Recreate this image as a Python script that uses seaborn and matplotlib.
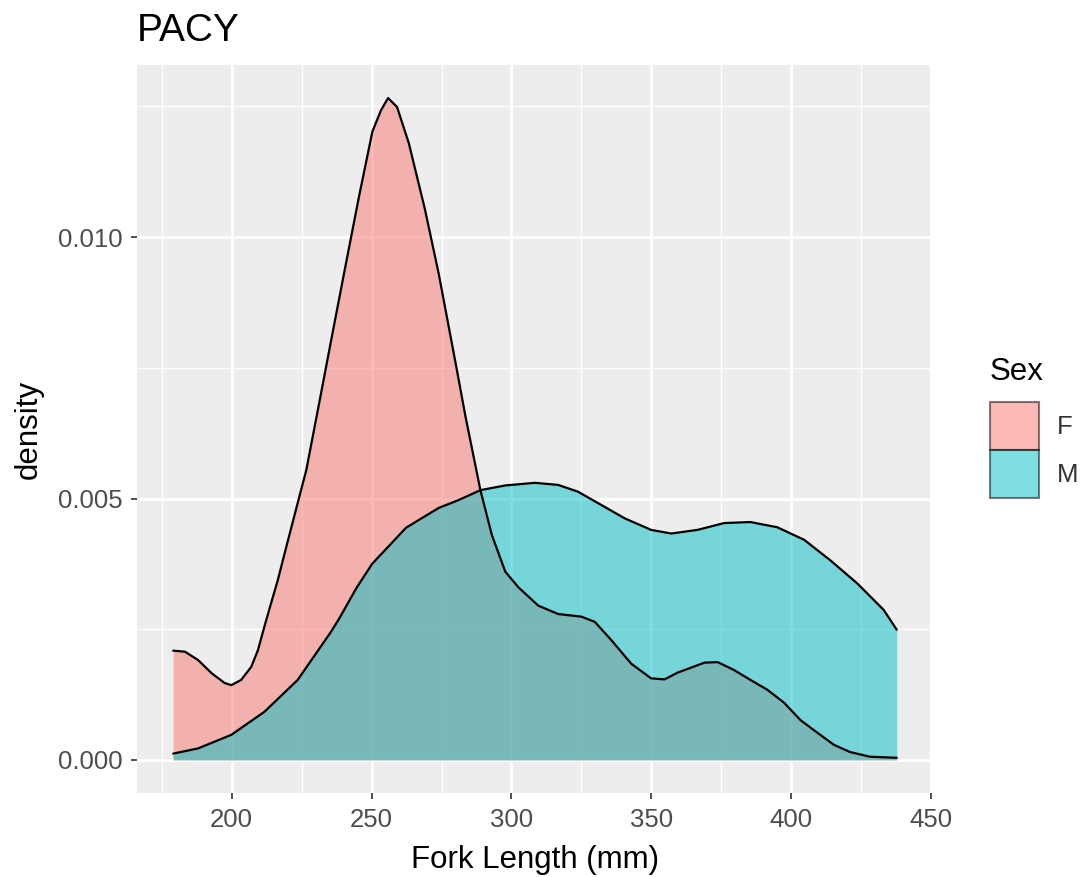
import matplotlib
matplotlib.use("Agg")
import matplotlib.pyplot as plt
from matplotlib.patches import Patch
from matplotlib.ticker import MultipleLocator
import pandas as pd
import seaborn as sns

# Kernel density of fork length (mm) by sex
female_length = [179.1, 183.3, 188.0, 192.8, 197.5, 199.9, 203.4, 207.0, 209.4,
                 211.7, 214.1, 216.5, 218.3, 222.8, 226.7, 231.9, 236.0, 240.5,
                 245.6, 250.3, 253.4, 255.9, 259.1, 263.3, 269.0, 274.0, 280.0,
                 283.6, 288.9, 293.0, 297.8, 302.5, 309.6, 316.7, 325.0, 329.8,
                 335.7, 342.8, 349.9, 354.7, 359.4, 369.0, 373.7, 379.5, 385.4,
                 391.5, 397.5, 403.3, 409.3, 415.2, 421.0, 428.2, 437.7]
female_density = [0.00209, 0.00207, 0.00191, 0.00166, 0.00147, 0.00143, 0.00153,
                  0.00178, 0.00210, 0.00255, 0.00300, 0.00344, 0.00382, 0.00475,
                  0.00555, 0.00700, 0.00815, 0.00940, 0.01080, 0.01202, 0.01243,
                  0.01266, 0.01249, 0.01180, 0.01055, 0.00930, 0.00760, 0.00656,
                  0.00516, 0.00430, 0.00360, 0.00330, 0.00295, 0.00279, 0.00274,
                  0.00264, 0.00229, 0.00184, 0.00156, 0.00154, 0.00167, 0.00186,
                  0.00187, 0.00172, 0.00153, 0.00134, 0.00109, 0.00076, 0.00052,
                  0.00029, 0.00015, 0.00006, 0.00004]

male_length = [179.1, 188.0, 199.9, 211.7, 223.6, 235.5, 238.4, 244.5, 250.2,
               262.3, 274.0, 281.1, 288.9, 297.8, 308.4, 316.7, 323.8, 331.0,
               340.5, 349.9, 357.1, 366.5, 376.0, 385.4, 395.0, 404.6, 413.9,
               423.5, 433.0, 437.7]
male_density = [0.00012, 0.00022, 0.00048, 0.00092, 0.00153, 0.00245, 0.00270,
                0.00328, 0.00375, 0.00444, 0.00482, 0.00497, 0.00516, 0.00525,
                0.00530, 0.00526, 0.00513, 0.00491, 0.00462, 0.00440, 0.00433,
                0.00440, 0.00453, 0.00455, 0.00445, 0.00421, 0.00382, 0.00338,
                0.00287, 0.00249]

sexes = ["F", "M"]
sex_colors = {"F": "#F8766D", "M": "#00BFC4"}
title = "PACY"
x_ticks = [200, 250, 300, 350, 400, 450]
y_ticks = [0.000, 0.005, 0.010]

df = pd.concat([
    pd.DataFrame({"length": female_length, "density": female_density, "Sex": "F"}),
    pd.DataFrame({"length": male_length, "density": male_density, "Sex": "M"}),
], ignore_index=True)

sns.set_theme(style="darkgrid", rc={
    "axes.facecolor": "#EDEDED",
    "figure.facecolor": "white",
    "grid.color": "white",
    "axes.edgecolor": "#EDEDED",
})
plt.rcParams["font.family"] = ["Liberation Sans", "DejaVu Sans"]

fig = plt.figure(figsize=(10.89, 8.77), dpi=100)
ax = fig.add_axes([0.1258, 0.0958, 0.7309, 0.8301])

alpha = 0.5
for sex in sexes:
    sub = df[df["Sex"] == sex]
    ax.fill_between(sub["length"], 0, sub["density"],
                    color=sex_colors[sex], alpha=alpha, linewidth=0, zorder=2)
    sns.lineplot(data=sub, x="length", y="density", color="black",
                 linewidth=1.6, sort=False, estimator=None, ax=ax, zorder=3)

# 5% expansion around the data range on both axes
xmin, xmax = df["length"].min(), df["length"].max()
xpad = 0.05 * (xmax - xmin)
ax.set_xlim(xmin - xpad, xmax + xpad)
ymax = df["density"].max()
ax.set_ylim(-0.05 * ymax, 1.05 * ymax)

ax.set_xticks(x_ticks)
ax.set_yticks(y_ticks)
ax.set_yticklabels([f"{v:.3f}" for v in y_ticks])
ax.xaxis.set_minor_locator(MultipleLocator(25))
ax.yaxis.set_minor_locator(MultipleLocator(0.0025))
ax.grid(which="major", color="white", linewidth=2.0, zorder=0)
ax.grid(which="minor", color="white", linewidth=0.9, zorder=0)
ax.set_axisbelow(True)
for spine in ax.spines.values():
    spine.set_visible(False)

ax.tick_params(axis="both", which="major", length=4.5, width=1.2, color="#333333",
               labelsize=18.5, labelcolor="#4D4D4D", pad=6, bottom=True, left=True)
ax.tick_params(axis="both", which="minor", length=0)

ax.set_xlabel("Fork Length (mm)", fontsize=22.5, color="black", labelpad=10)
ax.set_ylabel("density", fontsize=22.5, color="black", labelpad=10)
ax.set_title(title, loc="left", fontsize=28, color="black", pad=17)

# Legend: title placed as its own text so the keys sit below it with a gap
fig.text(990 / 1089, 1 - 372 / 877, "Sex", fontsize=22.5, color="black",
         ha="left", va="center")
handles = [Patch(facecolor=sex_colors[s], alpha=alpha, edgecolor="black",
                 linewidth=1.5, label=s) for s in sexes]
leg = fig.legend(handles=handles, loc="upper left",
                 bbox_to_anchor=(990 / 1089, 1 - 402 / 877), frameon=False,
                 fontsize=18.5, handlelength=1.9, handleheight=2.5,
                 labelspacing=0.0, handletextpad=0.7,
                 borderaxespad=0, borderpad=0)
for t in leg.get_texts():
    t.set_color("#333333")

fig.savefig("out.png", dpi=100)
